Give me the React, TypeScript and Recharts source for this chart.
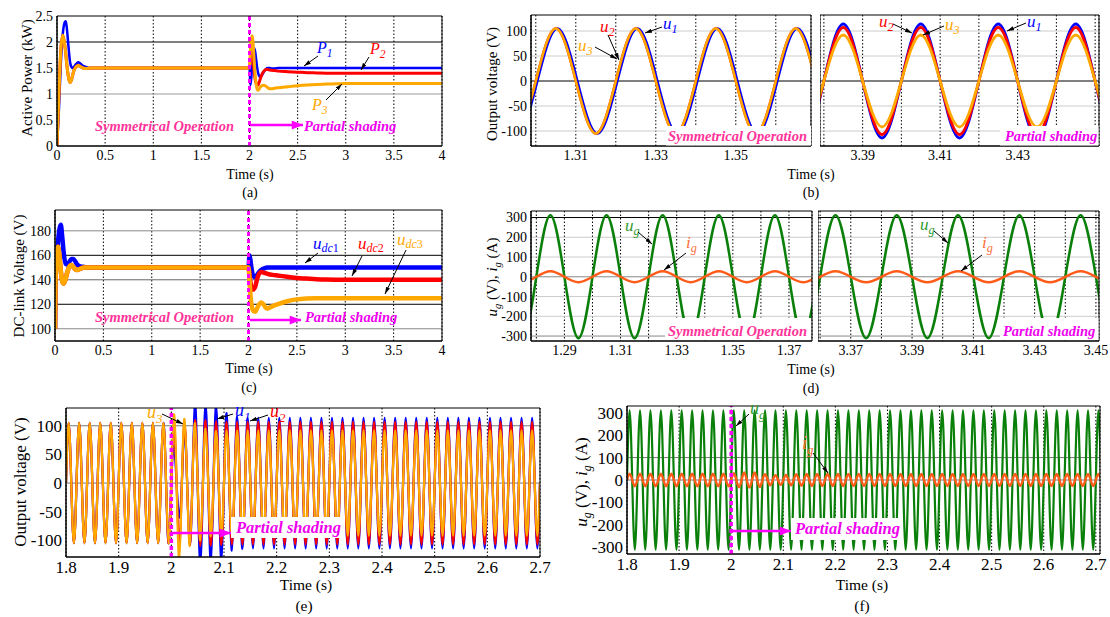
import React from 'react';
import { LineChart, Line, XAxis, YAxis, CartesianGrid, ReferenceLine, ReferenceArea } from 'recharts';

const serif = "'Liberation Serif', 'Times New Roman', serif";
const BLUE = '#0000ff';
const RED = '#ff0000';
const ORANGE = '#ffa800';
const GREEN = '#0a800a';
const IG = '#ff5c1a';
const MAG = '#ee00ee';
const PINK = '#ff3399';

// ---- (a) active power ----
const aTime = [0, 0.02, 0.04, 0.06, 0.08, 0.09, 0.1, 0.12, 0.135, 0.15,
  0.165, 0.18, 0.2, 0.22, 0.24, 0.27, 0.3, 0.35, 0.5, 1,
  1.5, 1.99, 2, 2.01, 2.02, 2.03, 2.04, 2.05, 2.06, 2.07,
  2.08, 2.09, 2.1, 2.11, 2.13, 2.15, 2.17, 2.19, 2.21, 2.23,
  2.26, 2.3, 2.4, 2.5, 2.6, 2.7, 2.8, 2.9, 3, 3.5,
  4];
const p1 = [0, 0.7, 1.6, 2.15, 2.38, 2.4, 2.3, 1.9, 1.62, 1.52,
  1.5, 1.53, 1.58, 1.61, 1.59, 1.54, 1.52, 1.5, 1.5, 1.5,
  1.5, 1.5, 1.5, 1.17, 1.35, 1.65, 1.85, 1.88, 1.8, 1.65,
  1.5, 1.4, 1.35, 1.33, 1.36, 1.43, 1.48, 1.5, 1.5, 1.49,
  1.49, 1.5, 1.5, 1.5, 1.5, 1.5, 1.5, 1.5, 1.5, 1.5,
  1.5];
const p2 = [0, 1.0, 1.85, 2.13, 1.95, 1.8, 1.6, 1.32, 1.22, 1.27,
  1.38, 1.47, 1.53, 1.55, 1.53, 1.5, 1.49, 1.5, 1.5, 1.5,
  1.5, 1.5, 1.5, 1.7, 1.85, 1.8, 1.6, 1.4, 1.27, 1.2,
  1.17, 1.18, 1.22, 1.28, 1.38, 1.44, 1.47, 1.47, 1.46, 1.455,
  1.45, 1.44, 1.43, 1.42, 1.41, 1.405, 1.4, 1.4, 1.4, 1.4,
  1.4];
const p3 = [0, 1.0, 1.85, 2.13, 1.95, 1.8, 1.6, 1.32, 1.22, 1.27,
  1.38, 1.47, 1.53, 1.55, 1.53, 1.5, 1.49, 1.5, 1.5, 1.5,
  1.5, 1.5, 1.5, 1.85, 2.08, 2.12, 1.9, 1.6, 1.35, 1.18,
  1.09, 1.07, 1.09, 1.13, 1.16, 1.17, 1.15, 1.12, 1.1, 1.1,
  1.11, 1.12, 1.14, 1.16, 1.175, 1.185, 1.19, 1.195, 1.2, 1.2,
  1.2];

// ---- (c) dc-link voltage ----
const cTime = [0, 0.005, 0.02, 0.03, 0.045, 0.06, 0.075, 0.09, 0.11, 0.13,
  0.15, 0.17, 0.19, 0.21, 0.23, 0.26, 0.3, 0.35, 0.5, 1,
  1.5, 1.99, 2, 2.01, 2.02, 2.03, 2.05, 2.07, 2.09, 2.11,
  2.13, 2.15, 2.17, 2.19, 2.21, 2.25, 2.3, 2.4, 2.5, 2.6,
  2.7, 2.8, 3, 3.5, 4];
const udc1 = [100, 145, 160, 170, 181, 185, 175, 162, 153, 152.5,
  155, 157, 157, 155, 152.5, 151, 150.5, 150, 150, 150,
  150, 150, 150, 160, 156, 150, 143, 142, 144, 146.5,
  148, 149, 149.5, 150, 150, 150, 150, 150, 150, 150,
  150, 150, 150, 150, 150];
const udc2 = [100, 140, 163, 167, 160, 147, 139, 137, 141, 147,
  151, 152, 150.5, 148.5, 148, 149, 150, 150, 150, 150,
  150, 150, 150, 145, 138, 134, 132, 134.5, 141, 145,
  146.3, 146, 145.5, 145, 144.5, 144, 143.5, 142.5, 141.5, 141,
  140.5, 140.2, 140, 140, 140];
const udc3 = [100, 140, 163, 167, 160, 147, 139, 137, 141, 147,
  151, 152, 150.5, 148.5, 148, 149, 150, 150, 150, 150,
  150, 150, 150, 140, 128, 120, 114.5, 114, 117, 120,
  121.5, 120.5, 118, 116.5, 117, 118.5, 120, 122.5, 124, 124.7,
  125, 125, 125, 125, 125];

// ---- (b) output voltage zoom, half-cycle peaks (zero crossings between) ----
const bLeftU1 = [-105, 105, -105, 105, -105, 105, -105, 105];
const bLeftU2 = [-105, 105, -105, 105, -105, 105, -105, 105];
const bLeftU3 = [-105, 105, -105, 105, -105, 105, -105, 105];
const bRightU1 = [-114, 114, -114, 114, -114, 114, -114, 114, -114];
const bRightU2 = [-107, 107, -107, 107, -107, 107, -107, 107, -107];
const bRightU3 = [-92, 92, -92, 92, -92, 92, -92, 92, -92];

// ---- (d) grid voltage / current zoom ----
const dLeftUg = [-311, 311, -311, 311, -311, 311, -311, 311, -311, 311, -311];
const dLeftIg = [-28, 28, -28, 28, -28, 28, -28, 28, -28, 28, -28];
const dRightUg = [-311, 311, -311, 311, -311, 311, -311, 311, -311, 311, -311];
const dRightIg = [-28, 28, -28, 28, -28, 28, -28, 28, -28, 28, -28];

// ---- (e) output voltages 1.8-2.7 s ----
const eU1 = [
  105, -105, 105, -105, 105, -105, 105, -105, 105, -105,
  105, -105, 105, -105, 105, -105, 105, -105, 105, -105,
  65, -60, 95, -105, 140, -140, 140, -140, 135, -135,
  122, -118, 116, -115, 114, -114, 114, -114, 114, -114,
  114, -114, 114, -114, 114, -114, 114, -114, 114, -114,
  114, -114, 114, -114, 114, -114, 114, -114, 114, -114,
  114, -114, 114, -114, 114, -114, 114, -114, 114, -114,
  114, -114, 114, -114, 114, -114, 114, -114, 114, -114,
  114, -114, 114, -114, 114, -114, 114, -114, 114, -114,
];
const eU2 = [
  105, -105, 105, -105, 105, -105, 105, -105, 105, -105,
  105, -105, 105, -105, 105, -105, 105, -105, 105, -105,
  100, -110, 105, -108, 110, -110, 110, -109, 108, -108,
  107, -107, 107, -107, 107, -107, 107, -107, 107, -107,
  107, -107, 107, -107, 107, -107, 107, -107, 107, -107,
  107, -107, 107, -107, 107, -107, 107, -107, 107, -107,
  107, -107, 107, -107, 107, -107, 107, -107, 107, -107,
  107, -107, 107, -107, 107, -107, 107, -107, 107, -107,
  107, -107, 107, -107, 107, -107, 107, -107, 107, -107,
];
const eU3 = [
  105, -105, 105, -105, 105, -105, 105, -105, 105, -105,
  105, -105, 105, -105, 105, -105, 105, -105, 105, -105,
  120, -135, 112, -110, 105, -100, 95, -93, 91, -91,
  92, -92, 92, -92, 92, -92, 92, -92, 92, -92,
  92, -92, 92, -92, 92, -92, 92, -92, 92, -92,
  92, -92, 92, -92, 92, -92, 92, -92, 92, -92,
  92, -92, 92, -92, 92, -92, 92, -92, 92, -92,
  92, -92, 92, -92, 92, -92, 92, -92, 92, -92,
  92, -92, 92, -92, 92, -92, 92, -92, 92, -92,
];

// ---- (f) grid voltage / current 1.8-2.71 s ----
const fUg = [
  311, -311, 311, -311, 311, -311, 311, -311, 311, -311,
  311, -311, 311, -311, 311, -311, 311, -311, 311, -311,
  311, -311, 311, -311, 311, -311, 311, -311, 311, -311,
  311, -311, 311, -311, 311, -311, 311, -311, 311, -311,
  311, -311, 311, -311, 311, -311, 311, -311, 311, -311,
  311, -311, 311, -311, 311, -311, 311, -311, 311, -311,
  311, -311, 311, -311, 311, -311, 311, -311, 311, -311,
  311, -311, 311, -311, 311, -311, 311, -311, 311, -311,
  311, -311, 311, -311, 311, -311, 311, -311, 311, -311,
  311,
];
const fIg = [
  28, -28, 28, -28, 28, -28, 28, -28, 28, -28,
  28, -28, 28, -28, 28, -28, 28, -28, 28, -28,
  30, -32, 34, -34, 33, -31, 26, -23, 21, -21,
  22, -24, 26, -26, 27, -27, 27, -27, 27, -27,
  27, -27, 27, -27, 27, -27, 27, -27, 27, -27,
  27, -27, 27, -27, 27, -27, 27, -27, 27, -27,
  27, -27, 27, -27, 27, -27, 27, -27, 27, -27,
  27, -27, 27, -27, 27, -27, 27, -27, 27, -27,
  27, -27, 27, -27, 27, -27, 27, -27, 27, -27,
  27,
];

// ticks
const aXTicks = [0, 0.5, 1, 1.5, 2, 2.5, 3, 3.5, 4];
const aYTicks = [0, 0.5, 1, 1.5, 2, 2.5];
const cYTicks = [100, 120, 140, 160, 180];
const bYTicks = [-100, -50, 0, 50, 100];
const dYTicks = [-300, -200, -100, 0, 100, 200, 300];
const bLeftTicks = [1.3, 1.31, 1.32, 1.33, 1.34, 1.35, 1.36];
const bLeftLabels = [1.31, 1.33, 1.35];
const bRightTicks = [3.38, 3.39, 3.4, 3.41, 3.42, 3.43, 3.44, 3.45];
const bRightLabels = [3.39, 3.41, 3.43];
const dLeftTicks = [1.28, 1.29, 1.3, 1.31, 1.32, 1.33, 1.34, 1.35, 1.36, 1.37];
const dLeftLabels = [1.29, 1.31, 1.33, 1.35, 1.37];
const dRightTicks = [3.36, 3.37, 3.38, 3.39, 3.4, 3.41, 3.42, 3.43, 3.44, 3.45];
const dRightLabels = [3.37, 3.39, 3.41, 3.43, 3.45];
const efXTicks = [1.8, 1.9, 2, 2.1, 2.2, 2.3, 2.4, 2.5, 2.6, 2.7];
const eYTicks = [-100, -50, 0, 50, 100];
const fYTicks = [-300, -200, -100, 0, 100, 200, 300];

// build a waveform table: zero crossing, half-cycle peak, zero crossing, ...
const wave = (t0: number, half: number, peaks: number[], lag = 0) => {
  const pts: { t: number; v: number }[] = [];
  peaks.forEach((p, k) => {
    pts.push({ t: t0 + k * half + lag, v: 0 });
    pts.push({ t: t0 + k * half + half / 2 + lag, v: p });
  });
  pts.push({ t: t0 + peaks.length * half + lag, v: 0 });
  return pts;
};

const aData = aTime.map((t, i) => ({ t, p1: p1[i], p2: p2[i], p3: p3[i] }));
const cData = cTime.map((t, i) => ({ t, u1: udc1[i], u2: udc2[i], u3: udc3[i] }));

type PanelProps = {
  box: [number, number, number, number];
  xDomain: [number, number];
  yDomain: [number, number];
  xTicks: number[];
  yTicks: number[];
  xLabels?: number[];
  hideY?: boolean;
  font: number;
  data?: any[];
  children?: React.ReactNode;
};

function Panel({ box, xDomain, yDomain, xTicks, yTicks, xLabels, hideY, font, data, children }: PanelProps) {
  const [x0, y0, x1, y1] = box;
  const yw = hideY ? 0 : font > 15 ? 48 : 40;
  const xh = 28;
  const right = 12;
  const top = 10;
  const tickStyle = { fill: '#000', fontSize: font, fontFamily: serif };
  const fmt = (v: number) => {
    if (!xLabels) return String(v);
    return xLabels.some((l) => Math.abs(l - v) < 1e-9) ? String(v) : '';
  };
  return (
    <div style={{ position: 'absolute', left: x0 - yw, top: y0 - top }}>
      <LineChart
        width={x1 - x0 + yw + right}
        height={y1 - y0 + top + xh}
        data={data}
        margin={{ top, right, bottom: 0, left: 0 }}
        style={{ fontFamily: serif }}
      >
        <CartesianGrid horizontal={false} stroke="#000" strokeDasharray="1.5 2" />
        <XAxis
          type="number"
          dataKey="t"
          domain={xDomain}
          ticks={xTicks}
          interval={0}
          allowDataOverflow
          height={xh}
          tickSize={3}
          tickMargin={1}
          tickLine={false}
          axisLine={{ stroke: '#000' }}
          tick={tickStyle}
          tickFormatter={fmt}
        />
        <YAxis
          type="number"
          domain={yDomain}
          ticks={yTicks}
          interval={0}
          allowDataOverflow
          width={yw}
          hide={hideY}
          tickSize={3}
          tickMargin={1}
          tickLine={false}
          axisLine={{ stroke: '#000' }}
          tick={tickStyle}
        />
        {children}
        <ReferenceArea
          x1={xDomain[0]}
          x2={xDomain[1]}
          y1={yDomain[0]}
          y2={yDomain[1]}
          fill="none"
          fillOpacity={0}
          stroke="#000"
          strokeWidth={1}
          ifOverflow="visible"
          zIndex={1600}
        />
      </LineChart>
    </div>
  );
}

const hLine = (y: number, color: string) => (
  <ReferenceLine key={`h${y}`} y={y} stroke={color} strokeWidth={1} />
);
const shadeLine = (w = 3) => (
  <ReferenceLine x={2} stroke="#ff00ff" strokeWidth={w} strokeDasharray="4 3" zIndex={1500} />
);

const Arrow = ({ x1, y1, x2, y2 }: { x1: number; y1: number; x2: number; y2: number }) => (
  <line x1={x1} y1={y1} x2={x2} y2={y2} stroke="#000" strokeWidth={1} markerEnd="url(#ah)" />
);
const MagArrow = ({ x1, x2, y }: { x1: number; x2: number; y: number }) => (
  <line x1={x1} y1={y} x2={x2} y2={y} stroke="#ff00ff" strokeWidth={2.5} markerEnd="url(#am)" />
);
const Sym = ({ x, y, main, sub, color, size = 15 }: { x: number; y: number; main: string; sub: string; color: string; size?: number }) => (
  <text x={x} y={y} fill={color} fontSize={size} fontStyle="italic">
    {main}
    <tspan fontSize={size * 0.72} dy={size * 0.25}>{sub}</tspan>
  </text>
);
const Udc = ({ x, y, n, color }: { x: number; y: number; n: string; color: string }) => (
  <text x={x} y={y} fill={color} fontSize={17} fontStyle="italic">
    u
    <tspan fontSize={12} dy={3}>dc</tspan>
    <tspan fontSize={12} fontStyle="normal">{n}</tspan>
  </text>
);
const YLabel = ({ cx, cy, size, children }: { cx: number; cy: number; size: number; children: React.ReactNode }) => (
  <text transform={`translate(${cx},${cy}) rotate(-90)`} textAnchor="middle" dy="0.35em" fontSize={size} fill="#000">
    {children}
  </text>
);
const UgIg = ({ s }: { s: number }) => (
  <>
    <tspan fontStyle="italic">u</tspan>
    <tspan fontStyle="italic" fontSize={s * 0.7} dy={s * 0.25}>g</tspan>
    <tspan dy={-s * 0.25}> (V), </tspan>
    <tspan fontStyle="italic">i</tspan>
    <tspan fontStyle="italic" fontSize={s * 0.7} dy={s * 0.25}>g</tspan>
    <tspan dy={-s * 0.25}> (A)</tspan>
  </>
);
const Tag = ({ x, y, color, size = 14.5, children }: { x: number; y: number; color: string; size?: number; children: React.ReactNode }) => (
  <text x={x} y={y} fill={color} fontSize={size} fontWeight="bold" fontStyle="italic">{children}</text>
);
const Caption = ({ x, y, size = 14, children }: { x: number; y: number; size?: number; children: React.ReactNode }) => (
  <text x={x} y={y} fontSize={size} textAnchor="middle" fill="#000">{children}</text>
);

function Overlay() {
  return (
    <svg width={1110} height={617} style={{ position: 'absolute', left: 0, top: 0, pointerEvents: 'none', fontFamily: serif }} fontFamily={serif}>
      <defs>
        <marker id="ah" viewBox="0 0 10 6" refX="10" refY="3" markerWidth="7" markerHeight="4.5" orient="auto" markerUnits="userSpaceOnUse">
          <path d="M0,0L10,3L0,6z" fill="#000" />
        </marker>
        <marker id="am" viewBox="0 0 10 8" refX="10" refY="4" markerWidth="12" markerHeight="9" orient="auto" markerUnits="userSpaceOnUse">
          <path d="M0,0L10,4L0,8z" fill="#ff00ff" />
        </marker>
      </defs>

      {/* (a) */}
      <YLabel cx={27} cy={78} size={15}>Active Power (kW)</YLabel>
      <Sym x={317} y={53} main="P" sub="1" color={BLUE} size={16} />
      <Arrow x1={318} y1={56} x2={304} y2={66} />
      <Sym x={370} y={54} main="P" sub="2" color={RED} size={16} />
      <Arrow x1={369} y1={57} x2={361} y2={70} />
      <Sym x={312} y={110} main="P" sub="3" color={ORANGE} size={16} />
      <Arrow x1={326} y1={100} x2={342} y2={84} />
      <Tag x={95} y={131} color={PINK}>Symmetrical Operation</Tag>
      <MagArrow x1={250} x2={303} y={125} />
      <Tag x={304} y={131} color={MAG}>Partial shading</Tag>
      <Caption x={250} y={179}>Time (s)</Caption>
      <Caption x={250} y={197}>(a)</Caption>

      {/* (c) */}
      <YLabel cx={19} cy={276} size={15}>DC-link Voltage (V)</YLabel>
      <Udc x={313} y={249} n="1" color={BLUE} />
      <Arrow x1={318} y1={253} x2={305} y2={263} />
      <Udc x={358} y={249} n="2" color={RED} />
      <Arrow x1={362} y1={256} x2={352} y2={276} />
      <Udc x={397} y={245} n="3" color={ORANGE} />
      <Arrow x1={406} y1={250} x2={385} y2={294} />
      <Tag x={95} y={322} color={PINK}>Symmetrical Operation</Tag>
      <MagArrow x1={250} x2={301} y={320} />
      <Tag x={305} y={322} color={MAG}>Partial shading</Tag>
      <Caption x={249} y={373}>Time (s)</Caption>
      <Caption x={249} y={392}>(c)</Caption>

      {/* (b) */}
      <YLabel cx={492} cy={84} size={15}>Output voltage (V)</YLabel>
      <Sym x={663} y={29} main="u" sub="1" color={BLUE} size={17} />
      <Arrow x1={662} y1={27} x2={645} y2={33} />
      <Sym x={600} y={32} main="u" sub="2" color={RED} size={17} />
      <Arrow x1={608} y1={35} x2={619} y2={60} />
      <Sym x={578} y={51} main="u" sub="3" color={ORANGE} size={17} />
      <Arrow x1={595} y1={47} x2={617} y2={59} />
      <rect x={666} y={126} width={145} height={19.5} fill="#fff" />
      <Tag x={668} y={141} color={PINK}>Symmetrical Operation</Tag>
      <Sym x={879} y={27} main="u" sub="2" color={RED} size={17} />
      <Arrow x1={893} y1={24} x2={912} y2={33} />
      <Sym x={945} y={30} main="u" sub="3" color={ORANGE} size={17} />
      <Arrow x1={944} y1={26} x2={923} y2={35} />
      <Sym x={1027} y={27} main="u" sub="1" color={BLUE} size={17} />
      <Arrow x1={1026} y1={23} x2={1007} y2={31} />
      <rect x={1000} y={126} width={98.5} height={19.5} fill="#fff" />
      <Tag x={1005} y={141} color={MAG}>Partial shading</Tag>
      <Caption x={811} y={179}>Time (s)</Caption>
      <Caption x={811} y={197}>(b)</Caption>

      {/* (d) */}
      <YLabel cx={492} cy={277} size={15}><UgIg s={15} /></YLabel>
      <Sym x={625} y={231} main="u" sub="g" color="#2f9a2f" size={17} />
      <Arrow x1={638} y1={232} x2={652} y2={244} />
      <Sym x={686} y={248} main="i" sub="g" color="#ff7040" size={17} />
      <Arrow x1={686} y1={253} x2={664} y2={270} />
      <rect x={665} y={318} width={146} height={22} fill="#fff" />
      <Tag x={668} y={336} color={PINK}>Symmetrical Operation</Tag>
      <Sym x={920} y={230} main="u" sub="g" color="#2f9a2f" size={17} />
      <Arrow x1={934} y1={231} x2={948} y2={243} />
      <Sym x={982} y={248} main="i" sub="g" color="#ff7040" size={17} />
      <Arrow x1={982} y1={255} x2={961} y2={271} />
      <rect x={1000} y={318} width={98.5} height={22} fill="#fff" />
      <Tag x={1003} y={336} color={MAG}>Partial shading</Tag>
      <Caption x={811} y={374}>Time (s)</Caption>
      <Caption x={811} y={393}>(d)</Caption>

      {/* (e) */}
      <YLabel cx={20} cy={482} size={17}>Output voltage (V)</YLabel>
      <Sym x={147} y={418} main="u" sub="3" color={ORANGE} size={18} />
      <Arrow x1={162} y1={414} x2={183} y2={424} />
      <Sym x={235} y={416} main="u" sub="1" color={BLUE} size={18} />
      <Arrow x1={233} y1={414} x2={217} y2={419} />
      <Sym x={270} y={417} main="u" sub="2" color={RED} size={18} />
      <Arrow x1={268} y1={415} x2={250} y2={421} />
      <MagArrow x1={171} x2={231} y={533} />
      <rect x={231} y={517} width={113} height={21} fill="#fff" />
      <Tag x={236} y={533} color={MAG} size={16.5}>Partial shading</Tag>
      <Caption x={306} y={590} size={15.5}>Time (s)</Caption>
      <Caption x={304} y={611} size={15.5}>(e)</Caption>

      {/* (f) */}
      <YLabel cx={581} cy={482} size={17}><UgIg s={17} /></YLabel>
      <Sym x={750} y={414} main="u" sub="g" color="#2f9a2f" size={18} />
      <Arrow x1={749} y1={414} x2={736} y2={426} />
      <Sym x={802} y={449} main="i" sub="g" color="#ff7040" size={18} />
      <Arrow x1={813} y1={453} x2={828} y2={473} />
      <MagArrow x1={732} x2={791} y={531} />
      <rect x={791} y={518} width={112} height={22} fill="#fff" />
      <Tag x={795} y={534} color={MAG} size={16.5}>Partial shading</Tag>
      <Caption x={862} y={590} size={15.5}>Time (s)</Caption>
      <Caption x={862} y={611} size={15.5}>(f)</Caption>
    </svg>
  );
}

const wline = (key: string, data: any[], color: string, w: number) => (
  <Line
    key={key}
    data={data}
    dataKey="v"
    type="natural"
    stroke={color}
    strokeWidth={w}
    dot={false}
    activeDot={false}
    isAnimationActive={false}
  />
);

export default function App() {
  return (
    <div style={{ position: 'absolute', left: 0, top: 0, width: 1110, height: 617, background: '#fff', overflow: 'hidden', fontFamily: serif }}>
      {/* (a) */}
      <Panel box={[57, 16, 442, 146]} xDomain={[0, 4]} yDomain={[0, 2.5]} xTicks={aXTicks} yTicks={aYTicks} font={14} data={aData}>
        {hLine(2, '#000')}
        {hLine(1, '#999')}
        <Line dataKey="p1" type="monotone" stroke={BLUE} strokeWidth={2.5} dot={false} activeDot={false} isAnimationActive={false} />
        <Line dataKey="p2" type="monotone" stroke={RED} strokeWidth={3} dot={false} activeDot={false} isAnimationActive={false} />
        <Line dataKey="p3" type="monotone" stroke={ORANGE} strokeWidth={3} dot={false} activeDot={false} isAnimationActive={false} />
        {shadeLine()}
      </Panel>

      {/* (c) */}
      <Panel box={[55, 210, 442, 341]} xDomain={[0, 4]} yDomain={[90, 197]} xTicks={aXTicks} yTicks={cYTicks} font={14} data={cData}>
        {hLine(180, '#888')}
        {hLine(160, '#000')}
        {hLine(140, '#666')}
        {hLine(120, '#000')}
        {hLine(100, '#888')}
        <Line dataKey="u1" type="monotone" stroke={BLUE} strokeWidth={4.5} dot={false} activeDot={false} isAnimationActive={false} />
        <Line dataKey="u2" type="monotone" stroke={RED} strokeWidth={4.5} dot={false} activeDot={false} isAnimationActive={false} />
        <Line dataKey="u3" type="monotone" stroke={ORANGE} strokeWidth={4.5} dot={false} activeDot={false} isAnimationActive={false} />
        {shadeLine()}
      </Panel>

      {/* (b) left */}
      <Panel box={[531, 15, 811, 146]} xDomain={[1.2988, 1.3688]} yDomain={[-130, 132]} xTicks={bLeftTicks} xLabels={bLeftLabels} yTicks={bYTicks} font={14}>
        {[100, 50, -50, -100].map((y) => hLine(y, '#ccc'))}
        {hLine(0, '#000')}
        {wline('u1', wave(1.29, 0.01, bLeftU1, 0.0004), BLUE, 2.5)}
        {wline('u2', wave(1.29, 0.01, bLeftU2), RED, 2.5)}
        {wline('u3', wave(1.29, 0.01, bLeftU3), ORANGE, 2.5)}
      </Panel>

      {/* (b) right */}
      <Panel box={[820, 15, 1099, 146]} xDomain={[3.379, 3.451]} yDomain={[-130, 132]} xTicks={bRightTicks} xLabels={bRightLabels} yTicks={bYTicks} hideY font={14}>
        {[100, 50, -50, -100].map((y) => hLine(y, '#ccc'))}
        {hLine(0, '#000')}
        {wline('u1', wave(3.37, 0.01, bRightU1), BLUE, 2.8)}
        {wline('u2', wave(3.37, 0.01, bRightU2), RED, 2.8)}
        {wline('u3', wave(3.37, 0.01, bRightU3), ORANGE, 2.8)}
      </Panel>

      {/* (d) left */}
      <Panel box={[531, 211, 812, 341]} xDomain={[1.2781, 1.3782]} yDomain={[-325, 333]} xTicks={dLeftTicks} xLabels={dLeftLabels} yTicks={dYTicks} font={14}>
        {[200, 100, -100, -200].map((y) => hLine(y, '#ccc'))}
        {hLine(300, '#000')}
        {hLine(0, '#888')}
        {hLine(-300, '#888')}
        {wline('ug', wave(1.27, 0.01, dLeftUg), GREEN, 2.5)}
        {wline('ig', wave(1.27, 0.01, dLeftIg), IG, 2.5)}
      </Panel>

      {/* (d) right */}
      <Panel box={[818, 211, 1099, 341]} xDomain={[3.3593, 3.451]} yDomain={[-325, 333]} xTicks={dRightTicks} xLabels={dRightLabels} yTicks={dYTicks} hideY font={14}>
        {[200, 100, -100, -200].map((y) => hLine(y, '#ccc'))}
        {hLine(300, '#000')}
        {hLine(0, '#888')}
        {hLine(-300, '#888')}
        {wline('ug', wave(3.35, 0.01, dRightUg), GREEN, 2.5)}
        {wline('ig', wave(3.35, 0.01, dRightIg), IG, 2.5)}
      </Panel>

      {/* (e) */}
      <Panel box={[66, 408, 540, 557]} xDomain={[1.8, 2.7]} yDomain={[-129, 131]} xTicks={efXTicks} yTicks={eYTicks} font={17}>
        {hLine(100, '#777')}
        {hLine(0, '#777')}
        {wline('u1', wave(1.8, 0.01, eU1), BLUE, 2.2)}
        {wline('u2', wave(1.8, 0.01, eU2), RED, 2.2)}
        {wline('u3', wave(1.8, 0.01, eU3), ORANGE, 2.2)}
        {shadeLine(3.5)}
      </Panel>

      {/* (f) */}
      <Panel box={[627, 406, 1100, 554]} xDomain={[1.8, 2.708]} yDomain={[-330, 330]} xTicks={efXTicks} yTicks={fYTicks} font={17}>
        {hLine(100, '#777')}
        {hLine(0, '#777')}
        {wline('ug', wave(1.8, 0.01, fUg), GREEN, 2.2)}
        {wline('ig', wave(1.8, 0.01, fIg), IG, 2.5)}
        {shadeLine(3.5)}
      </Panel>

      <Overlay />
    </div>
  );
}
